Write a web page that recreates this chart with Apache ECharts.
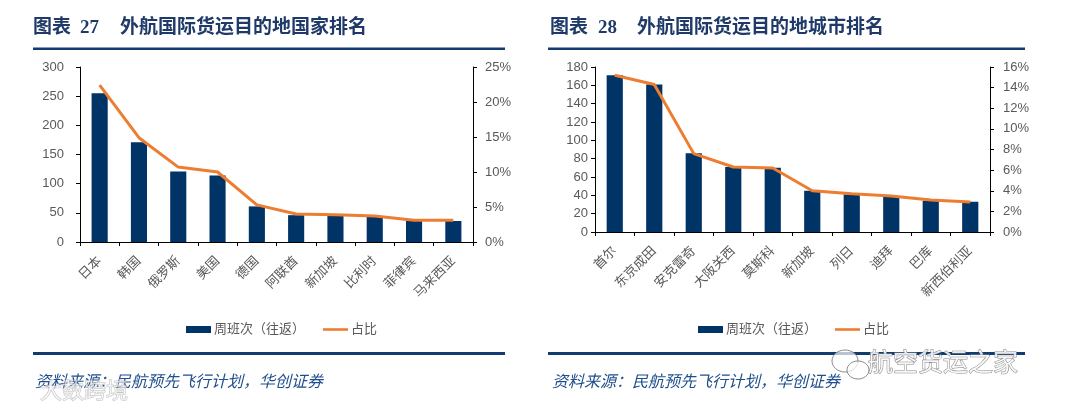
<!DOCTYPE html>
<html>
<head>
<meta charset="utf-8">
<script src="https://cdn.jsdelivr.net/npm/echarts@6/dist/echarts.min.js"></script>
<style>
html,body{margin:0;padding:0;background:#fff;}
#c{width:1066px;height:410px;}
</style>
</head>
<body>
<div id="c"></div>
<script>
// ---- data ----
const countryCats = ['日本','韩国','俄罗斯','美国','德国','阿联酋','新加坡','比利时','菲律宾','马来西亚'];
const countryFlights = [255,171,121,114,61,46,45,43,36,36];
const countryShare = [0.224,0.149,0.107,0.100,0.053,0.040,0.039,0.037,0.031,0.031];
const cityCats = ['首尔','东京成田','安克雷奇','大阪关西','莫斯科','新加坡','列日','迪拜','巴库','新西伯利亚'];
const cityFlights = [171,161,86,71,70,45,41,39,34,33];
const cityShare = [0.152,0.143,0.076,0.063,0.062,0.040,0.037,0.035,0.031,0.029];
const seriesNames = ['周班次（往返）','占比'];
const titleLeft = ['图表','27','外航国际货运目的地国家排名'];
const titleRight = ['图表','28','外航国际货运目的地城市排名'];
const sourceText = '资料来源：民航预先飞行计划，华创证券';

const FONT = "'Liberation Sans', 'Noto Sans CJK SC', sans-serif";
const TITLE_FONT = "'Liberation Serif', 'Noto Sans CJK SC', serif";
const NAVY = '#003366';
const ORANGE = '#ED7D31';
const LABEL = '#595959';
const TITLE_COLOR = '#1F3A68';
const RULE = '#123B70';

const pct = v => Math.round(v * 100) + '%';

function valAxis(gridIndex, min, max, interval, margin, fmt, pos) {
  return {
    type: 'value', gridIndex, min, max, interval, position: pos,
    axisLine: {show: true, lineStyle: {color: '#000', width: 1}},
    axisTick: {show: true, length: 4, lineStyle: {color: '#000'}},
    splitLine: {show: false},
    axisLabel: {color: LABEL, fontSize: 13, fontFamily: FONT, margin, formatter: fmt}
  };
}
function catAxis(gridIndex, data) {
  return {
    type: 'category', gridIndex, data, boundaryGap: true,
    axisLine: {show: true, lineStyle: {color: '#000', width: 1}},
    axisTick: {show: true, length: 4, alignWithLabel: false, interval: 0, lineStyle: {color: '#000'}},
    axisLabel: {color: LABEL, fontSize: 13, fontFamily: FONT, rotate: 45, interval: 0, margin: 17}
  };
}
// thin-line legend icon: degenerate corner points keep the 25x7 box, bar of height ~3 in middle
const LINE_ICON = 'path://M0,0L0,0M0,2.2L25,2.2L25,4.8L0,4.8ZM25,7L25,7';
function legend(left) {
  return {
    left, top: 318, itemWidth: 25, itemHeight: 7, itemGap: 18,
    data: [
      {name: seriesNames[0], icon: 'rect', itemStyle: {color: NAVY}},
      {name: seriesNames[1], icon: LINE_ICON, itemStyle: {color: ORANGE, borderWidth: 0}}
    ],
    selectedMode: false,
    textStyle: {color: LABEL, fontSize: 13, fontFamily: FONT, padding: [0,0,0,-2]}
  };
}
function titleTexts(parts, x0, xNum, xMain) {
  const st = {fill: TITLE_COLOR, fontSize: 19, fontWeight: 'bold', fontFamily: TITLE_FONT, textVerticalAlign: 'middle'};
  return [
    {type: 'text', x: x0, y: 28, style: Object.assign({text: parts[0]}, st)},
    {type: 'text', x: xNum, y: 28, style: Object.assign({text: parts[1]}, st)},
    {type: 'text', x: xMain, y: 28, style: Object.assign({text: parts[2]}, st)}
  ];
}

const chart = echarts.init(document.getElementById('c'), null, {renderer: 'canvas'});
chart.setOption({
  animation: false,
  backgroundColor: '#fff',
  grid: [
    {left: 80, top: 67, width: 393, height: 175},
    {left: 595, top: 67, width: 395, height: 165}
  ],
  xAxis: [catAxis(0, countryCats), catAxis(1, cityCats)],
  yAxis: [
    valAxis(0, 0, 300, 50, 16, null, 'left'),
    valAxis(0, 0, 0.25, 0.05, 12, pct, 'right'),
    valAxis(1, 0, 180, 20, 7, null, 'left'),
    valAxis(1, 0, 0.16, 0.02, 13, pct, 'right')
  ],
  legend: [legend(181), legend(693)],
  series: [
    {name: seriesNames[0], type: 'bar', xAxisIndex: 0, yAxisIndex: 0, data: countryFlights,
     barWidth: '41%', itemStyle: {color: NAVY}},
    {name: seriesNames[1], type: 'line', xAxisIndex: 0, yAxisIndex: 1, data: countryShare,
     symbol: 'none', lineStyle: {color: ORANGE, width: 3}, itemStyle: {color: ORANGE}},
    {name: seriesNames[0], type: 'bar', xAxisIndex: 1, yAxisIndex: 2, data: cityFlights,
     barWidth: '41%', itemStyle: {color: NAVY}},
    {name: seriesNames[1], type: 'line', xAxisIndex: 1, yAxisIndex: 3, data: cityShare,
     symbol: 'none', lineStyle: {color: ORANGE, width: 3}, itemStyle: {color: ORANGE}}
  ],
  graphic: [
    ...titleTexts(titleLeft, 33, 80, 120),
    ...titleTexts(titleRight, 550, 598, 637),
    {type: 'rect', shape: {x: 33, y: 47.5, width: 472, height: 2.5}, style: {fill: RULE}},
    {type: 'rect', shape: {x: 548, y: 47.5, width: 477, height: 2.5}, style: {fill: RULE}},
    {type: 'rect', shape: {x: 33, y: 352, width: 472, height: 3}, style: {fill: RULE}},
    {type: 'rect', shape: {x: 548, y: 352, width: 477, height: 3}, style: {fill: RULE}},
    {type: 'text', x: 35, y: 383, style: {text: sourceText, fill: '#1F4E8C', fontSize: 16, fontStyle: 'italic', fontFamily: FONT, textVerticalAlign: 'middle'}},
    {type: 'text', x: 552, y: 383, style: {text: sourceText, fill: '#1F4E8C', fontSize: 16, fontStyle: 'italic', fontFamily: FONT, textVerticalAlign: 'middle'}},
    // watermarks
    {type: 'text', x: 868, y: 364, z: 10, style: {text: '航空货运之家', fill: 'rgba(255,255,255,0.85)', stroke: '#8a8a8a', lineWidth: 1, fontSize: 25, fontFamily: FONT, textVerticalAlign: 'middle'}},
    {type: 'ellipse', z: 10, shape: {cx: 845, cy: 361, rx: 13, ry: 11}, style: {fill: 'rgba(255,255,255,0.7)', stroke: '#8a8a8a', lineWidth: 1}},
    {type: 'ellipse', z: 10, shape: {cx: 858, cy: 370, rx: 11, ry: 9}, style: {fill: 'rgba(255,255,255,0.7)', stroke: '#8a8a8a', lineWidth: 1}},
    {type: 'text', x: 40, y: 392, z: 10, style: {text: '大数跨境', fill: 'rgba(255,255,255,0.6)', stroke: 'rgba(160,160,160,0.6)', lineWidth: 1, fontSize: 22, fontFamily: FONT, textVerticalAlign: 'middle'}}
  ]
});
</script>
</body>
</html>
